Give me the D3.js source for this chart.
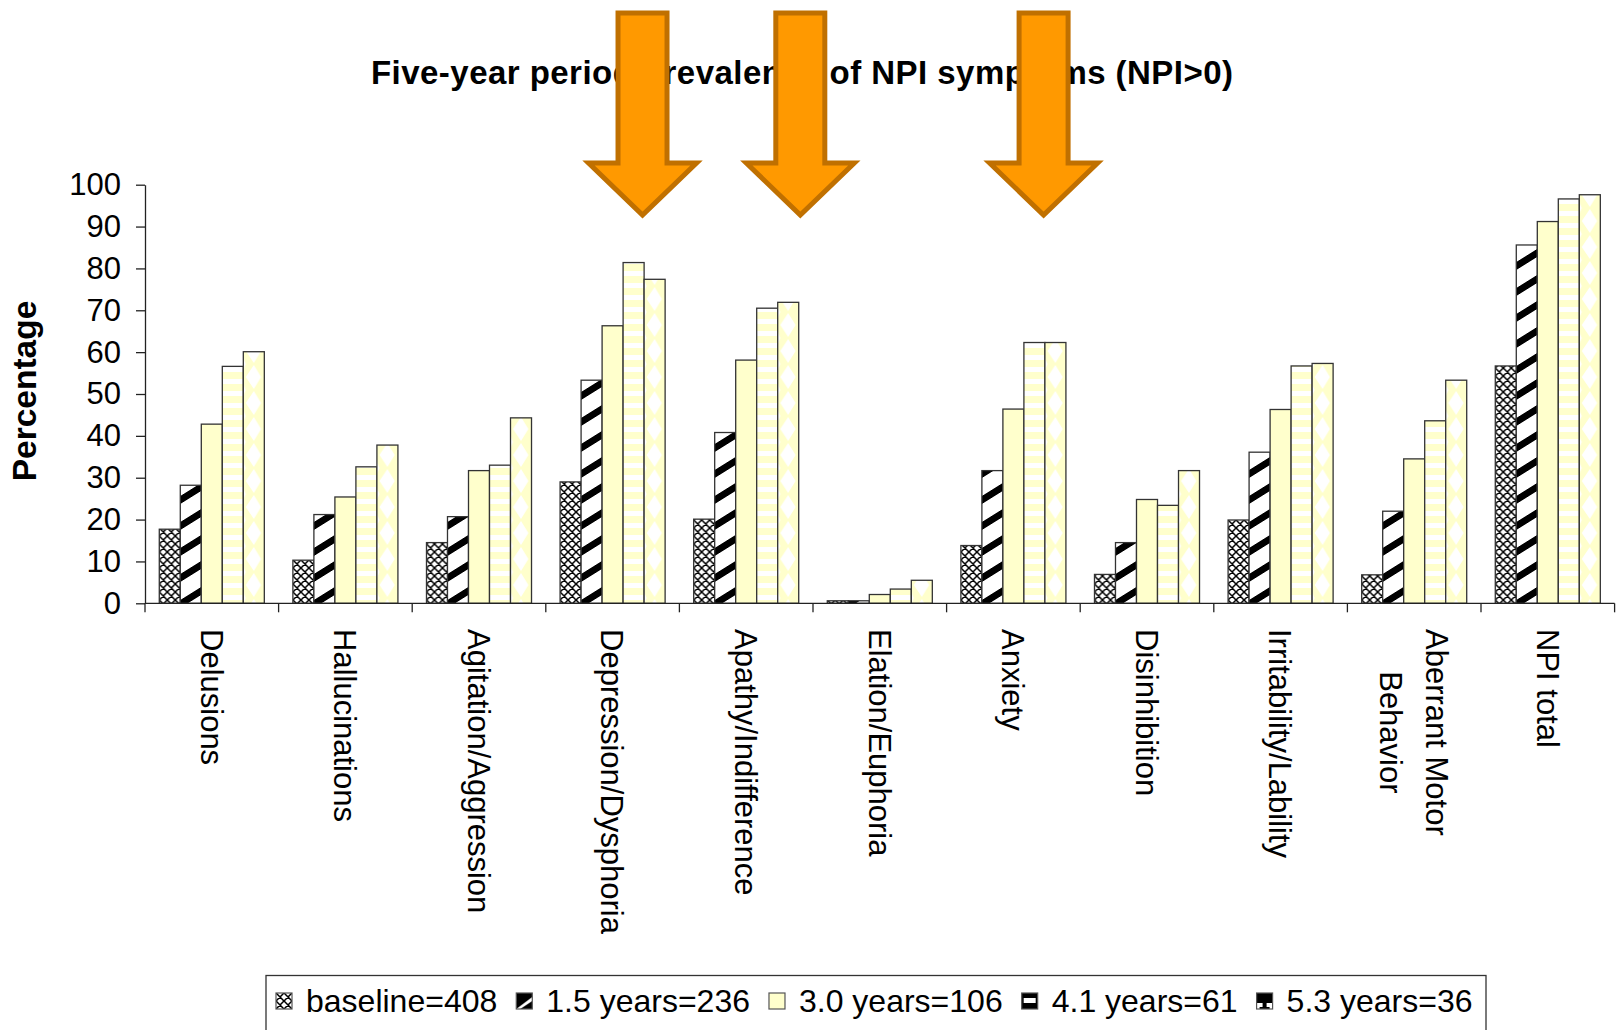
<!DOCTYPE html>
<html>
<head>
<meta charset="utf-8">
<script src="https://cdn.jsdelivr.net/npm/d3@7"></script>
<style>
  html, body { margin: 0; padding: 0; background: #fff; }
  svg { display: block; font-family: "Liberation Sans", Arial, sans-serif; }
</style>
</head>
<body>
<svg id="chart" width="1617" height="1030"></svg>
<script>
// ---- data ----
const categories = [
  "Delusions", "Hallucinations", "Agitation/Aggression", "Depression/Dysphoria",
  "Apathy/Indifference", "Elation/Euphoria", "Anxiety", "Disinhibition",
  "Irritability/Lability", "Aberrant Motor Behavior", "NPI total"
];
const seriesNames = ["baseline=408", "1.5 years=236", "3.0 years=106", "4.1 years=61", "5.3 years=36"];
const baseline = [17.7, 10.3, 14.5, 29.0, 20.1, 0.6, 13.8, 6.9, 19.9, 6.8, 56.7];
const years1_5 = [28.2, 21.2, 20.7, 53.3, 40.8, 0.6, 31.7, 14.5, 36.1, 22.0, 85.6];
const years3_0 = [42.8, 25.4, 31.7, 66.3, 58.1, 2.1, 46.4, 24.8, 46.3, 34.5, 91.2];
const years4_1 = [56.6, 32.6, 33.0, 81.4, 70.5, 3.4, 62.3, 23.4, 56.7, 43.6, 96.6];
const years5_3 = [60.1, 37.8, 44.3, 77.4, 71.9, 5.5, 62.3, 31.7, 57.3, 53.3, 97.6];
const yTicks = [0, 10, 20, 30, 40, 50, 60, 70, 80, 90, 100];
const titleText = "Five-year period prevalence of NPI symptoms (NPI>0)";
const yLabel = "Percentage";
// highlighted symptoms: category and position across its band
const highlights = [
  { category: "Depression/Dysphoria", at: 0.724 },
  { category: "Apathy/Indifference", at: 0.905 },
  { category: "Anxiety", at: 0.726 }
];

const seriesValues = [baseline, years1_5, years3_0, years4_1, years5_3];
const rows = categories.map((c, i) => ({
  category: c,
  values: seriesNames.map((s, k) => ({ series: s, k, value: seriesValues[k][i] }))
}));

// ---- layout ----
const svg = d3.select("#chart");
const YELLOW = "#FFFFCC";
const INK = "#222";

const x0 = d3.scaleBand().domain(categories).range([145, 1614.6]).padding(0);
const x1 = d3.scaleBand().domain(seriesNames).range([0, x0.bandwidth()])
  .paddingInner(0).paddingOuter(0.68);
const y = d3.scaleLinear().domain([0, 100]).range([603.3, 184.7]);
const bw = x1.bandwidth();

// ---- fill patterns (user space, aligned to each bar's own origin) ----
const defs = svg.append("defs");

const p0 = defs.append("pattern").attr("id", "fill-0")
  .attr("patternUnits", "userSpaceOnUse").attr("width", 8).attr("height", 8);
p0.append("rect").attr("width", 8).attr("height", 8).attr("fill", "#fff");
p0.append("path").attr("d", "M0,0L8,8M8,0L0,8M-1,7L1,9M7,-1L9,1")
  .attr("stroke", "#000").attr("stroke-width", 1.5).attr("fill", "none");

const p1 = defs.append("pattern").attr("id", "fill-1")
  .attr("patternUnits", "userSpaceOnUse").attr("width", 40).attr("height", 26)
  .attr("patternTransform", "skewY(-32)");
p1.append("rect").attr("width", 40).attr("height", 26).attr("fill", "#fff");
p1.append("rect").attr("y", 2).attr("width", 40).attr("height", 8).attr("fill", "#000");

const p2 = defs.append("pattern").attr("id", "fill-2")
  .attr("patternUnits", "userSpaceOnUse").attr("width", 10).attr("height", 10);
p2.append("rect").attr("width", 10).attr("height", 10).attr("fill", YELLOW);

const p3 = defs.append("pattern").attr("id", "fill-3")
  .attr("patternUnits", "userSpaceOnUse").attr("width", 10).attr("height", 12);
p3.append("rect").attr("width", 10).attr("height", 12).attr("fill", YELLOW);
p3.append("rect").attr("y", 7).attr("width", 10).attr("height", 5).attr("fill", "#fff");

const p4 = defs.append("pattern").attr("id", "fill-4")
  .attr("patternUnits", "userSpaceOnUse").attr("width", bw).attr("height", 26);
p4.append("rect").attr("width", bw).attr("height", 26).attr("fill", YELLOW);
p4.append("path")
  .attr("d", `M${bw * 0.12},13L${bw * 0.5},1L${bw * 0.85},13L${bw * 0.5},25Z` +
             `M0,0L${bw * 0.12},0L0,6Z M0,26L${bw * 0.12},26L0,20Z`)
  .attr("fill", "#fff");

// small legend keys render the hatched fills darker
const keyFills = ["url(#fill-0)", "url(#key-1)", "url(#fill-2)", "url(#key-3)", "url(#key-4)"];
const k1 = defs.append("pattern").attr("id", "key-1")
  .attr("patternUnits", "objectBoundingBox").attr("width", 1).attr("height", 1);
k1.append("rect").attr("width", 16).attr("height", 16).attr("fill", "#000");
k1.append("path").attr("d", "M0,16L16,4L16,8L4,16Z").attr("fill", "#fff");
const k3 = defs.append("pattern").attr("id", "key-3")
  .attr("patternUnits", "objectBoundingBox").attr("width", 1).attr("height", 1);
k3.append("rect").attr("width", 16).attr("height", 16).attr("fill", "#000");
k3.append("rect").attr("x", 2).attr("y", 5).attr("width", 12).attr("height", 5).attr("fill", "#fff");
const k4 = defs.append("pattern").attr("id", "key-4")
  .attr("patternUnits", "objectBoundingBox").attr("width", 1).attr("height", 1);
k4.append("rect").attr("width", 16).attr("height", 16).attr("fill", "#fff");
k4.append("path").attr("d", "M0,0H16V10H10V14H13V16H3V14H6V10H0Z").attr("fill", "#000");

// ---- title ----
svg.append("text")
  .attr("x", 802).attr("y", 84)
  .attr("text-anchor", "middle")
  .attr("font-size", 33).attr("font-weight", "bold")
  .attr("textLength", 862).attr("lengthAdjust", "spacing")
  .attr("fill", "#000")
  .text(titleText);

// ---- bars ----
const groups = svg.append("g").selectAll("g.cat")
  .data(rows).join("g")
  .attr("class", "cat")
  .attr("transform", d => `translate(${x0(d.category)},0)`);

groups.selectAll("g.bar")
  .data(d => d.values).join("g")
  .attr("class", "bar")
  .attr("transform", d => `translate(${x1(d.series)},0)`)
  .append("rect")
  .attr("x", 0)
  .attr("y", d => y(d.value))
  .attr("width", bw)
  .attr("height", d => y(0) - y(d.value))
  .attr("fill", d => `url(#fill-${d.k})`)
  .attr("stroke", "#333").attr("stroke-width", 1.3);

// ---- y axis ----
const yAxis = svg.append("g")
  .attr("transform", `translate(${x0.range()[0]},0)`)
  .call(d3.axisLeft(y).tickValues(yTicks).tickSize(9).tickSizeOuter(0).tickPadding(15));
yAxis.select(".domain").attr("stroke", INK).attr("stroke-width", 1.3);
yAxis.selectAll(".tick line").attr("stroke", INK).attr("stroke-width", 1.3);
yAxis.selectAll(".tick text")
  .attr("font-size", 31).attr("font-family", "Liberation Sans, Arial, sans-serif")
  .attr("fill", "#000");

svg.append("text")
  .attr("transform", "translate(36,391) rotate(-90)")
  .attr("text-anchor", "middle")
  .attr("font-size", 33.5).attr("font-weight", "bold")
  .attr("fill", "#000")
  .text(yLabel);

// ---- x axis ----
const xAxis = svg.append("g");
const [xa, xb] = x0.range();
xAxis.append("line")
  .attr("x1", xa).attr("x2", xb).attr("y1", y(0)).attr("y2", y(0))
  .attr("stroke", INK).attr("stroke-width", 1.3);
const bounds = categories.map(c => x0(c)).concat([xb]);
xAxis.selectAll("line.tick").data(bounds).join("line")
  .attr("class", "tick")
  .attr("x1", d => d).attr("x2", d => d)
  .attr("y1", y(0)).attr("y2", y(0) + 9)
  .attr("stroke", INK).attr("stroke-width", 1.3);

// category labels, rotated, wrapped at spaces when too long
const labelSize = 31, maxLabel = 320, lineGap = 46;
const probe = svg.append("text").attr("font-size", labelSize).attr("visibility", "hidden");
const measure = s => { probe.text(s); return probe.node().getComputedTextLength(); };
function wrap(label) {
  if (measure(label) <= maxLabel || label.indexOf(" ") < 0) return [label];
  const words = label.split(" ");
  const lines = [];
  let cur = words[0];
  for (let i = 1; i < words.length; i++) {
    const t = cur + " " + words[i];
    if (measure(t) <= maxLabel) cur = t; else { lines.push(cur); cur = words[i]; }
  }
  lines.push(cur);
  return lines;
}
const labels = xAxis.selectAll("g.lab").data(categories).join("g")
  .attr("class", "lab")
  .attr("transform", c => `translate(${x0(c) + x0.bandwidth() / 2},629) rotate(90)`);
labels.each(function (c) {
  const lines = wrap(c);
  const block = d3.max(lines, measure);
  const n = lines.length;
  d3.select(this).selectAll("text").data(lines).join("text")
    .attr("x", block / 2)
    .attr("y", (d, i) => (i - (n - 1) / 2) * lineGap)
    .attr("dy", "0.36em")
    .attr("text-anchor", "middle")
    .attr("font-size", labelSize)
    .attr("fill", "#000")
    .text(d => d);
});
probe.remove();

// ---- legend ----
const legend = svg.append("g");
legend.append("rect")
  .attr("x", 266).attr("y", 975.5).attr("width", 1220).attr("height", 80)
  .attr("fill", "#fff").attr("stroke", "#333").attr("stroke-width", 1.3);
let lx = 276;
seriesNames.forEach((s, k) => {
  const item = legend.append("g").attr("transform", `translate(${lx},993)`);
  item.append("rect")
    .attr("width", 16).attr("height", 16)
    .attr("fill", keyFills[k])
    .attr("stroke", "#555")
    .attr("stroke-width", 1.2);
  const t = item.append("text")
    .attr("x", 30).attr("y", 18.5)
    .attr("font-size", 32).attr("fill", "#000")
    .text(s);
  lx += 30 + t.node().getComputedTextLength() + 19;
});

// ---- highlight arrows, drawn over the title ----
const arrowShape = { shaft: 24.5, head: 54, top: 13, neck: 163, tip: 215 };
const arrowPath = cx => {
  const a = arrowShape;
  return `M${cx - a.shaft},${a.top}H${cx + a.shaft}V${a.neck}H${cx + a.head}` +
         `L${cx},${a.tip}L${cx - a.head},${a.neck}H${cx - a.shaft}Z`;
};
svg.append("g").selectAll("path").data(highlights).join("path")
  .attr("d", d => arrowPath(x0(d.category) + x0.bandwidth() * d.at))
  .attr("fill", "#FF9900")
  .attr("stroke", "#C07000")
  .attr("stroke-width", 5)
  .attr("stroke-linejoin", "miter");
</script>
</body>
</html>
